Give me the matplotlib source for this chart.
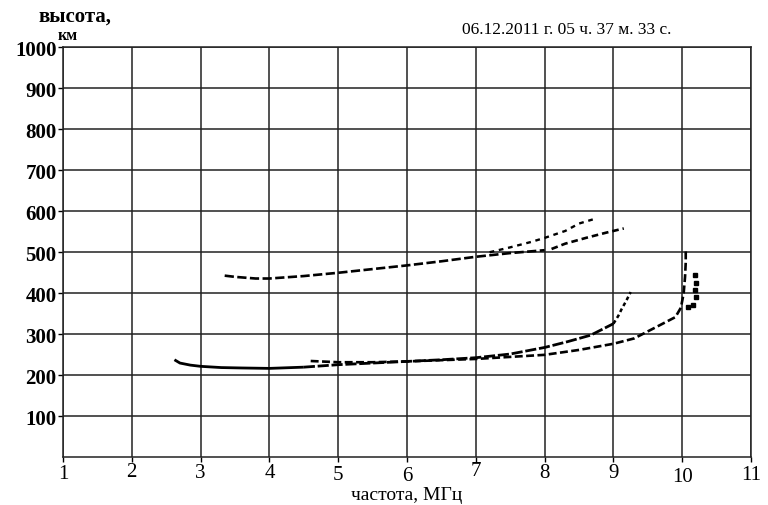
import matplotlib.pyplot as plt
import matplotlib.transforms as mtransforms

plt.rcParams['font.family'] = ['Liberation Serif', 'DejaVu Serif']

# F-layer trace, lower (main) branch
lo_f = [2.62, 2.7, 2.85, 3.0, 3.3, 3.6, 4.0, 4.5, 5.0, 5.5, 6.0, 6.5, 7.0, 7.5, 8.0, 8.33, 8.67, 9.0]
lo_h = [238, 230, 225, 222, 219, 218, 217, 220, 226, 230, 234, 238, 243, 252, 268, 282, 298, 326]
# steep end of the lower branch near 9.2 MHz
lo_end_f = [9.0, 9.07, 9.12, 9.18, 9.25]
lo_end_h = [326, 345, 362, 380, 403]
# second branch splitting off near 7 MHz
x_f = [4.6, 5.0, 5.5, 6.0, 6.5, 7.0, 7.5, 8.0, 8.5, 9.0, 9.3, 9.67, 9.9, 9.98, 10.02, 10.04, 10.05, 10.05]
x_h = [235, 232, 232, 234, 237, 240, 245, 250, 262, 277, 290, 322, 342, 365, 400, 440, 475, 508]
# dots right of 10 MHz
r_f = [10.08, 10.15, 10.2, 10.19, 10.2, 10.18]
r_h = [367, 371, 391, 407, 424, 444]
# upper trace (about twice the height)
up_f = [3.35, 3.5, 3.8, 4.0, 4.5, 5.0, 5.5, 6.0, 6.5, 7.0, 7.5, 8.0]
up_h = [443, 440, 436, 436, 442, 450, 459, 468, 478, 489, 498, 505]
up2_f = [8.1, 8.3, 8.6, 8.9, 9.15]
up2_h = [508, 521, 535, 548, 558]
sub_f = [7.2, 7.5, 7.8, 8.0, 8.3, 8.5, 8.7]
sub_h = [500, 512, 525, 535, 552, 570, 580]

xticks = list(range(1, 12))
yticks = list(range(100, 1001, 100))
# scanned labels sit at uneven heights (points, + is up)
xlab_shift = [0.5, 2.4, 1.8, 1.3, -0.2, -0.8, 3.0, 1.8, 1.3, -1.6, -0.3]

fig = plt.figure(figsize=(7.68, 5.06), dpi=100)
ax = fig.add_axes([0.082, 0.094, 0.896, 0.811])

ax.plot(lo_f[:8], lo_h[:8], color='black', lw=2.0, solid_capstyle='butt')
ax.plot(lo_f[7:], lo_h[7:], color='black', lw=2.0, ls=(0, (4, 1)))
ax.plot(lo_end_f, lo_end_h, color='black', lw=1.8, ls=(0, (1.5, 1.2)))
ax.plot(x_f, x_h, color='black', lw=1.9, ls=(0, (3, 1.3)))
ax.plot(r_f, r_h, color='black', lw=0, marker='s', ms=2.2)
ax.plot(up_f, up_h, color='black', lw=1.9, ls=(0, (3.5, 1.3)))
ax.plot(up2_f, up2_h, color='black', lw=1.9, ls=(0, (2.5, 1.5)))
ax.plot(sub_f, sub_h, color='black', lw=1.7, ls=(0, (2, 2)))

ax.set_xlim(1, 11)
ax.set_ylim(0, 1000)
ax.set_xticks(xticks)
ax.set_yticks(yticks)
ax.grid(True, color='#222222', lw=1.1)
ax.set_axisbelow(True)
for s in ax.spines.values():
    s.set_color('#222222')
    s.set_linewidth(1.1)

ax.tick_params(axis='y', direction='out', length=3.5, width=1, pad=1, labelsize=15)
ax.tick_params(axis='x', direction='out', length=3.5, width=1, pad=2, labelsize=15)
for t in ax.get_yticklabels():
    t.set_fontweight('bold')
for t, dy in zip(ax.get_xticklabels(), xlab_shift):
    t.set_transform(t.get_transform() + mtransforms.ScaledTranslation(0, dy / 72, fig.dpi_scale_trans))

fig.text(0.53, 0.021, 'частота, МГц', fontsize=14, ha='center', va='center')
fig.text(0.098, 0.958, 'высота,', fontsize=15, fontweight='bold', ha='center', va='baseline')
fig.text(0.088, 0.921, 'км', fontsize=11.5, fontweight='bold', ha='center', va='baseline')
fig.text(0.601, 0.941, '06.12.2011 г. 05 ч. 37 м. 33 с.', fontsize=12.5, ha='left', va='center')

fig.savefig('out.png', dpi=100)
